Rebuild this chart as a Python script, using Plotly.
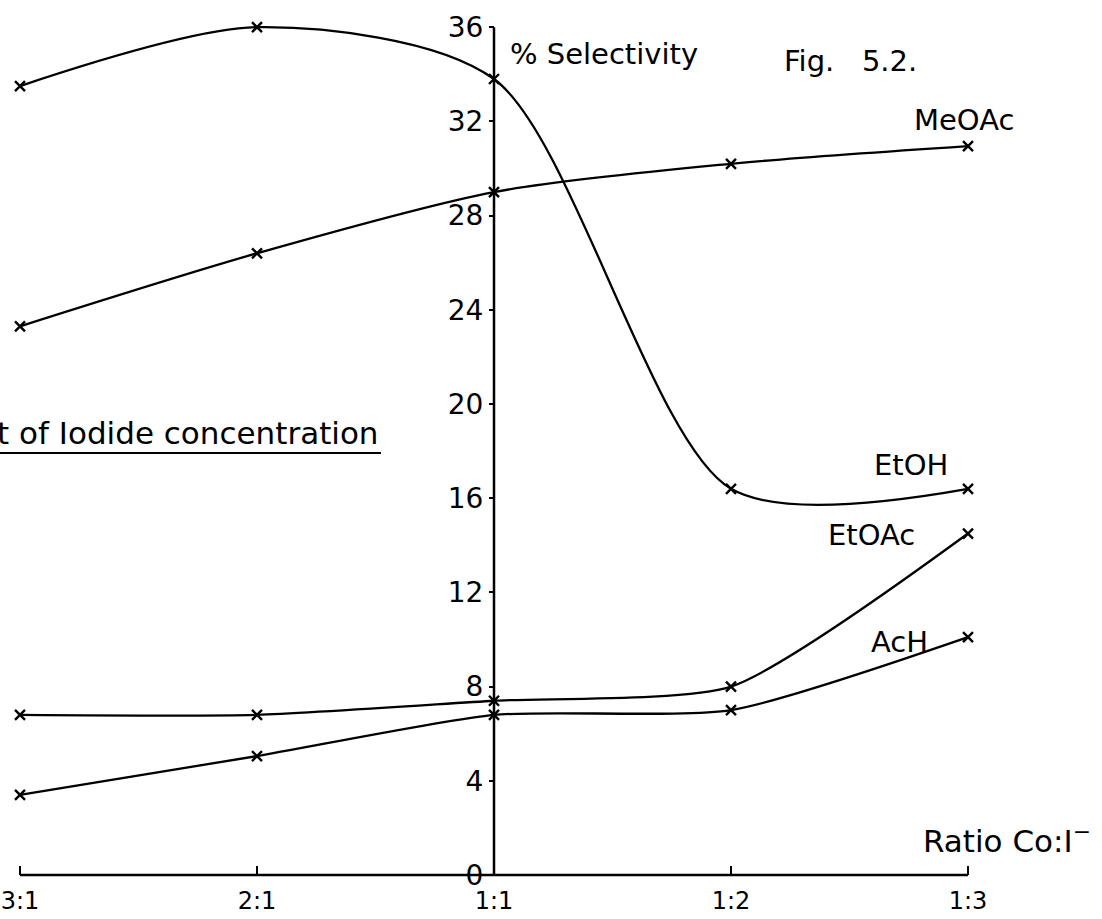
import plotly.graph_objects as go

# ---- data ----
categories = ["3:1", "2:1", "1:1", "1:2", "1:3"]
EtOH = [33.5, 36.0, 33.8, 16.4, 16.4]
MeOAc = [23.3, 26.4, 29.0, 30.2, 30.95]
EtOAc = [6.8, 6.8, 7.4, 8.0, 14.5]
AcH = [3.4, 5.05, 6.8, 7.0, 10.1]
y_ticks = [0, 4, 8, 12, 16, 20, 24, 28, 32, 36]

W, H = 1102, 919
FONT = "DejaVu Sans"
xi = list(range(len(categories)))

# axis ranges chosen so that the whole figure is the plotting area
x_range = [-0.0844, 4.5654]
y_range = [-1.868, 37.155]


def px(x):
    return x / W


def py(y):
    return 1 - y / H


fig = go.Figure()
series = [("EtOH", EtOH, 0.8), ("MeOAc", MeOAc, 0.8), ("EtOAc", EtOAc, 0.6), ("AcH", AcH, 0.6)]
for name, vals, sm in series:
    fig.add_trace(go.Scatter(
        x=xi, y=vals, name=name, mode="lines+markers",
        line=dict(color="black", width=2.3, shape="spline", smoothing=sm),
        marker=dict(symbol="x-thin", size=10, line=dict(color="black", width=2.4)),
        cliponaxis=False, showlegend=False, hoverinfo="skip",
    ))

# axis lines (x axis from first to last category, y axis at 1:1 from 0 to 36)
fig.add_shape(type="line", xref="x", yref="y", x0=xi[0], x1=xi[-1], y0=0, y1=0,
              line=dict(color="black", width=2.5))
fig.add_shape(type="line", xref="x", yref="y", x0=xi[2], x1=xi[2], y0=0, y1=y_ticks[-1],
              line=dict(color="black", width=2.5))

x_pos_frac = (0 - y_range[0]) / (y_range[1] - y_range[0])
y_pos_frac = (xi[2] - x_range[0]) / (x_range[1] - x_range[0])

fig.update_layout(
    width=W, height=H, autosize=False,
    margin=dict(l=0, r=0, t=0, b=0, pad=0, autoexpand=False),
    paper_bgcolor="white", plot_bgcolor="white",
    xaxis=dict(range=x_range, anchor="free", position=x_pos_frac, automargin=False,
               tickvals=xi, ticktext=categories, ticks="inside", ticklen=9,
               tickwidth=2, tickcolor="black", showline=False, showgrid=False,
               zeroline=False, ticklabelstandoff=9, ticklabeloverflow="allow",
               tickfont=dict(family=FONT, size=24, color="black")),
    yaxis=dict(range=y_range, anchor="free", position=y_pos_frac, automargin=False,
               tickvals=y_ticks, ticks="outside", ticklen=5, tickwidth=2,
               tickcolor="black", showline=False, showgrid=False, zeroline=False,
               ticklabeloverflow="allow",
               tickfont=dict(family=FONT, size=28, color="black")),
)

NB = "\u00a0"
annotations = [
    dict(text="%" + NB + "Selectivity", x=px(508), y=py(54), xanchor="left", yanchor="middle", size=29),
    dict(text="Fig." + NB * 3 + "5.2.", x=px(782), y=py(61), xanchor="left", yanchor="middle", size=29),
    dict(text="MeOAc", x=px(912), y=py(120), xanchor="left", yanchor="middle", size=29),
    dict(text="EtOH", x=px(872), y=py(465), xanchor="left", yanchor="middle", size=29),
    dict(text="EtOAc", x=px(826), y=py(535), xanchor="left", yanchor="middle", size=29),
    dict(text="AcH", x=px(869), y=py(642), xanchor="left", yanchor="middle", size=29),
    dict(text="Effect" + NB + "of" + NB + "Iodide" + NB + "concentration", x=px(381), y=py(433),
         xanchor="right", yanchor="middle", size=31),
    dict(text="Ratio" + NB + "Co:I<sup>\u2212</sup>", x=px(921), y=py(839), xanchor="left",
         yanchor="middle", size=31),
]
for a in annotations:
    fig.add_annotation(text=a["text"], xref="paper", yref="paper", x=a["x"], y=a["y"],
                       xanchor=a["xanchor"], yanchor=a["yanchor"], showarrow=False,
                       font=dict(family=FONT, size=a["size"], color="black"))

# underline of the title
fig.add_shape(type="line", xref="paper", yref="paper", x0=px(-5), x1=px(381),
              y0=py(453), y1=py(453), line=dict(color="black", width=2.2))

# remove the default 8px page margin so the figure fills the window exactly
fig.write_html("out.html", config={"displayModeBar": False},
               post_script="document.body.style.margin='0';")
